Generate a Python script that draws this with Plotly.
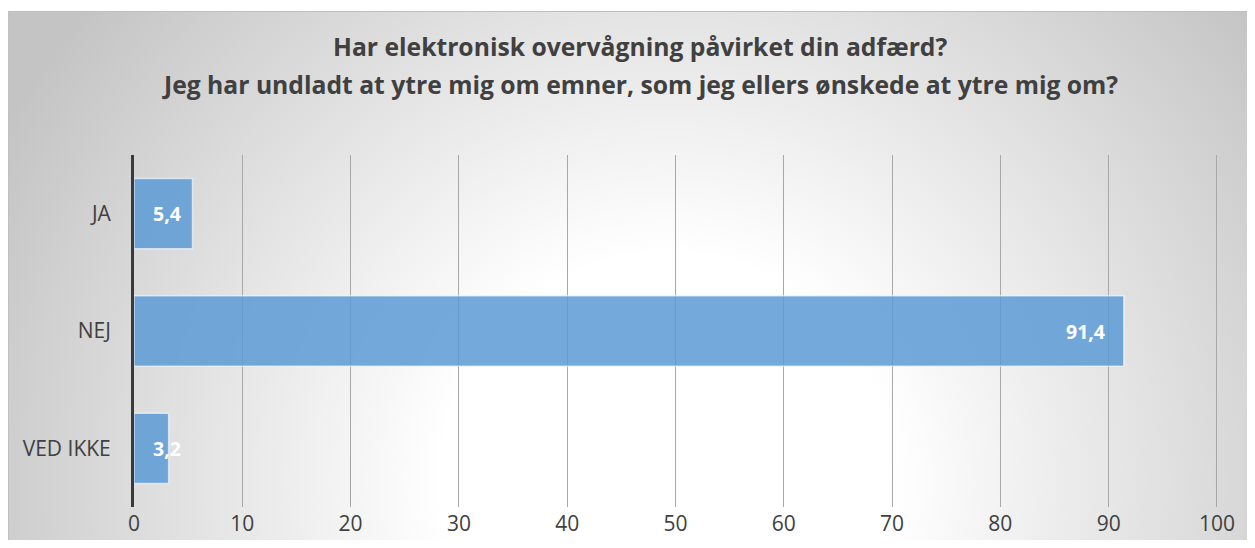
import base64
import plotly.graph_objects as go

# Survey answers (percent)
categories = ['JA', 'NEJ', 'VED IKKE']
values = [5.4, 91.4, 3.2]
x_ticks = [0, 10, 20, 30, 40, 50, 60, 70, 80, 90, 100]

title_lines = [
    'Har elektronisk overvågning påvirket din adfærd?',
    'Jeg har undladt at ytre mig om emner, som jeg ellers ønskede at ytre mig om?',
]

# the page body has an 8px margin on every side; keep the page inside the window
W, H = 1239, 532
L, R, T, B = 126, 29, 147, 33
PW, PH = W - L - R, H - T - B

FONT = 'Open Sans'
TXT = '#404040'

# radial grey background of the chart area (Excel style)
bg_x0, bg_y0 = 0, 3
bg_w, bg_h = W - bg_x0 + 2, H - bg_y0 + 2
svg = f'''<svg xmlns="http://www.w3.org/2000/svg" width="{bg_w}" height="{bg_h}" viewBox="0 0 {bg_w} {bg_h}">
<defs><radialGradient id="g" gradientUnits="userSpaceOnUse" cx="660" cy="470" r="750">
<stop offset="0" stop-color="#ffffff"/><stop offset="0.3" stop-color="#ffffff"/>
<stop offset="1" stop-color="#c4c4c4"/></radialGradient></defs>
<rect x="0.5" y="0.5" width="{bg_w + 5}" height="{bg_h + 5}" fill="url(#g)" stroke="#c0c0c0" stroke-width="1"/>
</svg>'''
bg_src = 'data:image/svg+xml;base64,' + base64.b64encode(svg.encode()).decode()


def label_cfg(v):
    # Excel "inside end"; when the bar is too short the label starts at the axis
    if v < 10:
        return dict(x=0, xanchor='left', xshift=17)
    return dict(x=v, xanchor='right', xshift=-17)


fig = go.Figure(go.Bar(
    x=values, y=categories, orientation='h', width=0.6,
    marker=dict(color='rgba(91,155,213,0.85)',
                line=dict(color='rgba(255,255,255,0.6)', width=1.5)),
    hoverinfo='skip',
))

for c, v in zip(categories, values):
    fig.add_annotation(
        y=c, yref='y', xref='x', text=f'<b>{v:.1f}</b>'.replace('.', ','),
        showarrow=False, font=dict(family=FONT, size=19.5, color='white'),
        **label_cfg(v),
    )

# two title lines, Excel spaces them wider than a plain <br>
for line, y_px in zip(title_lines, [39, 77]):
    fig.add_annotation(
        text=f'<b>{line}</b>', xref='paper', yref='paper',
        x=(632 - L) / PW, y=(H - B - y_px) / PH,
        xanchor='center', yanchor='middle', showarrow=False,
        font=dict(family=FONT, size=24.7, color=TXT),
    )

fig.update_layout(
    width=W, height=H,
    margin=dict(l=L, r=R, t=T, b=B, pad=0),
    paper_bgcolor='white', plot_bgcolor='rgba(0,0,0,0)',
    showlegend=False,
    font=dict(family=FONT, color=TXT, size=21),
    xaxis=dict(
        range=[0, 100.1], tickvals=x_ticks, showgrid=True,
        gridcolor='#a8a8a8', gridwidth=1, zeroline=False,
        showline=False, ticks='', ticklabelstandoff=2, automargin=False,
        tickfont=dict(size=21, color=TXT),
    ),
    yaxis=dict(
        categoryorder='array', categoryarray=categories, autorange='reversed',
        showgrid=False, zeroline=False, showline=True, automargin=False,
        linecolor='#3a3a3a', linewidth=3, ticks='', ticklabelstandoff=16,
        tickfont=dict(size=21, color=TXT),
    ),
    images=[dict(
        source=bg_src, xref='paper', yref='paper',
        x=(bg_x0 - L) / PW, y=(H - B - bg_y0) / PH,
        sizex=bg_w / PW, sizey=bg_h / PH,
        xanchor='left', yanchor='top', sizing='stretch', layer='below',
    )],
)

fig.write_html('out.html')
